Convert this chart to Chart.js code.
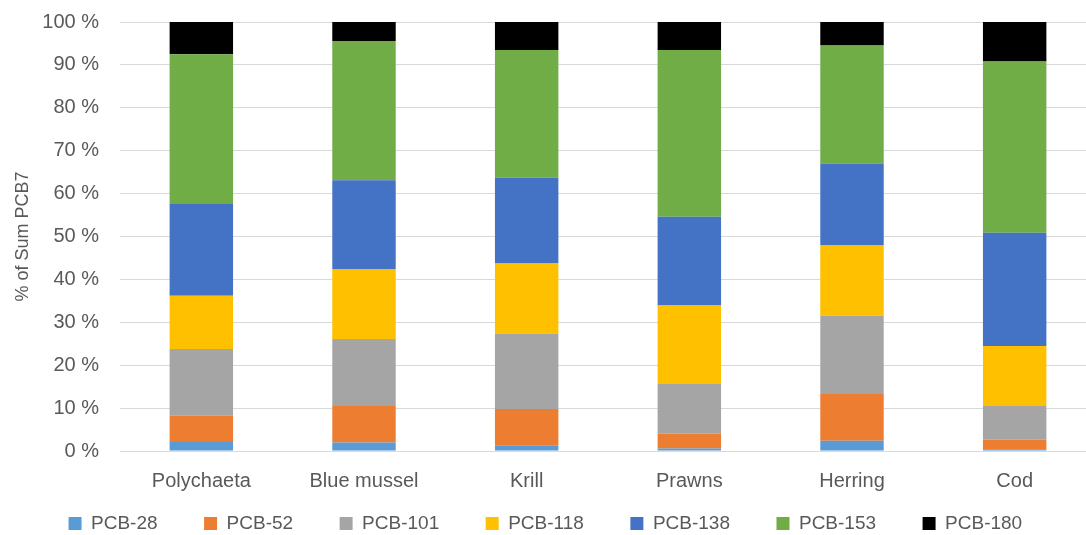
<!DOCTYPE html>
<html>
<head>
<meta charset="utf-8">
<script src="https://cdn.jsdelivr.net/npm/chart.js@4"></script>
<style>
  html, body { margin: 0; padding: 0; background: #ffffff; overflow: hidden; }
  .chart-container { width: 1096px; height: 543px; }
</style>
</head>
<body>
<div class="chart-container"><canvas id="chart" width="1096" height="543"></canvas></div>
<script>
const categories = ['Polychaeta', 'Blue mussel', 'Krill', 'Prawns', 'Herring', 'Cod'];
const seriesNames = ['PCB-28', 'PCB-52', 'PCB-101', 'PCB-118', 'PCB-138', 'PCB-153', 'PCB-180'];
const seriesColors = ['#5B9BD5', '#ED7D31', '#A5A5A5', '#FFC000', '#4472C4', '#70AD47', '#000000'];

const pcb28 = [2.1, 2.0, 1.2, 0.6, 2.4, 0.4];
const pcb52 = [6.1, 8.5, 8.6, 3.5, 10.9, 2.3];
const pcb101 = [15.6, 15.6, 17.6, 11.5, 18.2, 7.8];
const pcb118 = [12.4, 16.2, 16.3, 18.3, 16.4, 14.0];
const pcb138 = [21.4, 20.8, 20.0, 20.7, 19.1, 26.4];
const pcb153 = [34.9, 32.5, 29.8, 38.9, 27.5, 39.9];
const pcb180 = [7.5, 4.4, 6.5, 6.5, 5.5, 9.2];

const yTicks = [0, 10, 20, 30, 40, 50, 60, 70, 80, 90, 100];

const seriesValues = [pcb28, pcb52, pcb101, pcb118, pcb138, pcb153, pcb180];
const fontFamily = '"Liberation Sans", Arial, sans-serif';
const textColor = '#595959';

const datasets = seriesNames.map(function (name, i) {
  return {
    label: name,
    data: seriesValues[i],
    backgroundColor: seriesColors[i],
    borderWidth: 0,
    barPercentage: 0.39,
    categoryPercentage: 1.0
  };
});

const ctx = document.getElementById('chart').getContext('2d');
const chart = new Chart(ctx, {
  type: 'bar',
  data: { labels: categories, datasets: datasets },
  options: {
    responsive: false,
    animation: false,
    devicePixelRatio: 1,
    layout: { padding: { top: 22, left: 0, right: 0, bottom: 0 } },
    plugins: {
      tooltip: { enabled: false },
      legend: {
        position: 'bottom',
        labels: {
          color: textColor,
          font: { family: fontFamily, size: 19 },
          boxWidth: 13,
          boxHeight: 13,
          padding: 18,
          generateLabels: function (c) {
            const items = Chart.defaults.plugins.legend.labels.generateLabels(c);
            items.forEach(function (item, i) {
              item.text = item.text + (i < items.length - 1 ? '\u2002\u2002\u2002' : ' ');
              item.lineWidth = 0;
            });
            return items;
          }
        }
      }
    },
    scales: {
      x: {
        stacked: true,
        grid: { display: false, drawTicks: false },
        border: { display: false },
        ticks: {
          color: textColor,
          font: { family: fontFamily, size: 20 },
          padding: 18,
          maxRotation: 0
        },
        afterFit: function (axis) { axis.height = 45; }
      },
      y: {
        stacked: true,
        min: 0,
        max: 100,
        afterBuildTicks: function (axis) {
          axis.ticks = yTicks.map(function (v) { return { value: v }; });
        },
        grid: { color: '#D9D9D9', lineWidth: 1, drawTicks: false },
        border: { display: false },
        ticks: {
          color: textColor,
          font: { family: fontFamily, size: 20 },
          padding: 21,
          callback: function (value) { return value + ' %'; }
        },
        title: {
          display: true,
          text: '% of Sum PCB7',
          color: textColor,
          font: { family: fontFamily, size: 18 },
          padding: { top: 12, bottom: 8 }
        },
        afterFit: function (axis) {
          axis.width = 120;
          axis.paddingTop = 0;
          axis.paddingBottom = 0;
        }
      }
    }
  }
});
</script>
</body>
</html>
